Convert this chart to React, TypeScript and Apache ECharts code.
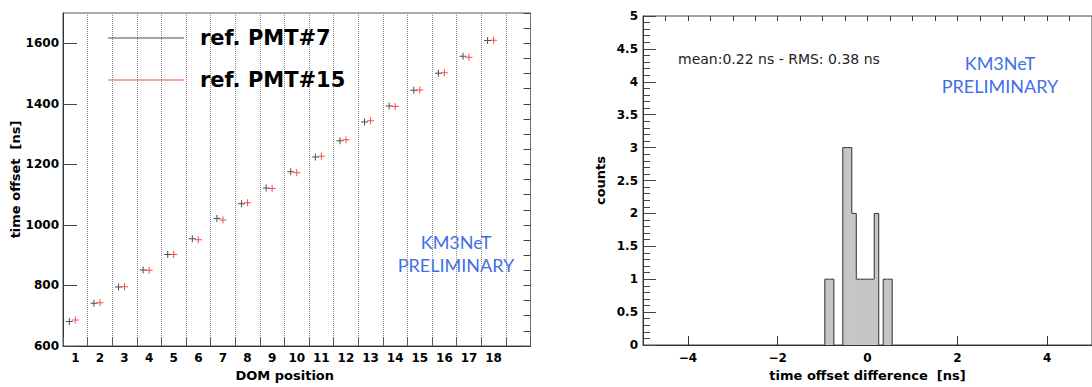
import React, { useEffect, useRef } from 'react';
import * as echarts from 'echarts';

// ---------- data ----------
const domPositions = ['1', '2', '3', '4', '5', '6', '7', '8', '9', '10', '11', '12', '13', '14', '15', '16', '17', '18', ''];
const refPmt7 = [681, 741, 795, 851, 902, 954, 1021, 1070, 1122, 1176, 1224, 1278, 1340, 1393, 1445, 1501, 1557, 1609];
const refPmt15 = [686, 743, 796, 850, 902, 951, 1016, 1073, 1120, 1172, 1227, 1281, 1344, 1391, 1446, 1503, 1554, 1610];
const leftYLabelTicks = [600, 800, 1000, 1200, 1400, 1600];

const histBinCenters = [-0.9, -0.8, -0.5, -0.4, -0.3, -0.2, -0.1, 0.0, 0.1, 0.2, 0.4, 0.5];
const histCounts = [1, 1, 3, 3, 2, 1, 1, 1, 1, 2, 1, 1];
const histBinWidth = 0.1;
const rightXLabelTicks = [-4, -2, 0, 2, 4];

const statsText = 'mean:0.22 ns - RMS: 0.38 ns';
const watermark = 'KM3NeT\nPRELIMINARY';

const FONT = 'DejaVu Sans';
const plusSymbol = 'path://M0,3H7V4H0Z M3,0H4V7H3Z';

const countAt = (c: number) => {
  const i = histBinCenters.findIndex((v) => Math.abs(v - c) < 1e-6);
  return i >= 0 ? histCounts[i] : 0;
};

const minusFmt = (v: number) => (v < 0 ? '\u2212' + Math.abs(v) : String(v));

export default function App() {
  const ref = useRef<HTMLDivElement>(null);

  useEffect(() => {
    if (!ref.current) return;
    const chart = echarts.init(ref.current, undefined, { renderer: 'svg' });

    const labelStyle = { fontFamily: FONT, fontWeight: 'bold', fontSize: 12, color: '#000' };
    const nameStyle = { fontFamily: FONT, fontWeight: 'bold', fontSize: 13, color: '#000' };

    const option: any = {
      animation: false,
      backgroundColor: '#fff',
      grid: [
        { left: 63, top: 13, width: 467.5, height: 336, show: true, borderColor: '#555', borderWidth: 1, backgroundColor: 'transparent' },
        { left: 643, top: 16, width: 455, height: 329, show: true, borderColor: '#444', borderWidth: 1, backgroundColor: 'transparent' },
      ],
      legend: {
        orient: 'vertical',
        left: 108,
        top: 25,
        padding: 0,
        itemWidth: 76,
        itemHeight: 1,
        itemGap: 16,
        icon: 'rect',
        selectedMode: false,
        textStyle: { fontFamily: FONT, fontWeight: 'bold', fontSize: 21, color: '#000', lineHeight: 26, padding: [0, 0, 0, 11] },
        data: ['ref. PMT#7', 'ref. PMT#15'],
      },
      xAxis: [
        {
          type: 'category',
          gridIndex: 0,
          data: domPositions,
          boundaryGap: true,
          axisLine: { show: true, lineStyle: { color: '#333' } },
          axisTick: { show: true, inside: true, length: 9, lineStyle: { color: '#555' } },
          axisLabel: { ...labelStyle, margin: 6, interval: 0 },
          splitLine: { show: true, interval: 0, lineStyle: { type: 'dotted', color: '#8a8a8a', width: 1 } },
          name: 'DOM position',
          nameLocation: 'middle',
          nameGap: 23,
          nameTextStyle: { ...nameStyle, padding: [0, 24, 0, 0] },
        },
        {
          type: 'value',
          gridIndex: 1,
          min: -5,
          max: 5,
          interval: 1,
          axisLine: { show: true, onZero: false, lineStyle: { color: '#333' } },
          axisTick: { show: true, inside: true, length: 9, customValues: rightXLabelTicks, lineStyle: { color: '#333' } },
          axisLabel: { ...labelStyle, margin: 7, customValues: rightXLabelTicks, formatter: (v: number) => minusFmt(v) },
          splitLine: { show: false },
          name: 'time offset difference  [ns]',
          nameLocation: 'middle',
          nameGap: 23,
          nameTextStyle: nameStyle,
        },
        {
          type: 'value',
          gridIndex: 1,
          min: -5,
          max: 5,
          interval: 0.5,
          axisLine: { show: false, onZero: false },
          axisTick: { show: true, inside: true, length: 5, lineStyle: { color: '#333' } },
          axisLabel: { show: false },
          splitLine: { show: false },
        },
      ],
      yAxis: [
        {
          type: 'value',
          gridIndex: 0,
          min: 600,
          max: 1700,
          interval: 200,
          axisLine: { show: true, onZero: false, lineStyle: { color: '#333' } },
          axisTick: { show: true, inside: true, length: 14, customValues: leftYLabelTicks, lineStyle: { color: '#444' } },
          axisLabel: { ...labelStyle, margin: 4, customValues: leftYLabelTicks, formatter: (v: number) => String(v) },
          splitLine: { show: false },
          name: 'time offset  [ns]',
          nameLocation: 'middle',
          nameGap: 38,
          nameTextStyle: nameStyle,
        },
        {
          type: 'value',
          gridIndex: 0,
          min: 600,
          max: 1700,
          interval: 50,
          axisLine: { show: false, onZero: false },
          axisTick: { show: true, inside: true, length: 7, lineStyle: { color: '#444' } },
          axisLabel: { show: false },
          splitLine: { show: false },
        },
        {
          type: 'value',
          gridIndex: 1,
          min: 0,
          max: 5,
          interval: 0.5,
          axisLine: { show: true, onZero: false, lineStyle: { color: '#333' } },
          axisTick: { show: true, inside: true, length: 13, lineStyle: { color: '#444' } },
          minorTick: { show: true, splitNumber: 5, length: 7, lineStyle: { color: '#444' } },
          axisLabel: { ...labelStyle, margin: 5, formatter: (v: number) => String(v) },
          splitLine: { show: false },
          minorSplitLine: { show: false },
          name: 'counts',
          nameLocation: 'middle',
          nameGap: 36,
          nameTextStyle: nameStyle,
        },
      ],
      series: [
        {
          type: 'scatter',
          name: 'ref. PMT#7',
          xAxisIndex: 0,
          yAxisIndex: 0,
          data: refPmt7,
          symbol: plusSymbol,
          symbolSize: 7,
          symbolOffset: [-6, 0],
          itemStyle: { color: '#222' },
          z: 3,
        },
        {
          type: 'scatter',
          name: 'ref. PMT#15',
          xAxisIndex: 0,
          yAxisIndex: 0,
          data: refPmt15,
          symbol: plusSymbol,
          symbolSize: 7,
          itemStyle: { color: '#ff1a1a' },
          z: 3,
        },
        {
          type: 'custom',
          name: 'time offset difference',
          xAxisIndex: 1,
          yAxisIndex: 2,
          data: histBinCenters.map((c, i) => [c, histCounts[i]]),
          encode: { x: 0, y: 1 },
          renderItem: (_params: any, api: any) => {
            const c = api.value(0) as number;
            const n = api.value(1) as number;
            const x0 = c - histBinWidth / 2;
            const x1 = c + histBinWidth / 2;
            const pTL = api.coord([x0, n]);
            const pBR = api.coord([x1, 0]);
            const yOf = (v: number) => api.coord([c, v])[1];
            const L = countAt(Math.round((c - histBinWidth) * 10) / 10);
            const R = countAt(Math.round((c + histBinWidth) * 10) / 10);
            const stroke = { stroke: '#333', lineWidth: 1 };
            const children: any[] = [
              { type: 'rect', shape: { x: pTL[0] - 0.3, y: pTL[1], width: pBR[0] - pTL[0] + 0.6, height: pBR[1] - pTL[1] }, style: { fill: '#c6c6c6' } },
              { type: 'line', shape: { x1: pTL[0], y1: pTL[1], x2: pBR[0], y2: pTL[1] }, style: stroke },
            ];
            if (n > L) children.push({ type: 'line', shape: { x1: pTL[0], y1: pTL[1], x2: pTL[0], y2: yOf(L) }, style: stroke });
            if (n > R) children.push({ type: 'line', shape: { x1: pBR[0], y1: pTL[1], x2: pBR[0], y2: yOf(R) }, style: stroke });
            return { type: 'group', children };
          },
          z: 2,
        },
      ],
      graphic: [
        {
          type: 'text',
          x: 678,
          y: 59,
          style: { text: statsText, fontFamily: FONT, fontSize: 14, fill: '#222', verticalAlign: 'middle' },
        },
        {
          type: 'text',
          x: 456,
          y: 253,
          style: { text: watermark, fontFamily: 'Lato', fontSize: 18, lineHeight: 23, fill: '#3f6fe8', align: 'center', verticalAlign: 'middle' },
        },
        {
          type: 'text',
          x: 1000,
          y: 74,
          style: { text: watermark, fontFamily: 'Lato', fontSize: 18, lineHeight: 23, fill: '#3f6fe8', align: 'center', verticalAlign: 'middle' },
        },
      ],
    };

    chart.setOption(option);
    return () => chart.dispose();
  }, []);

  return <div ref={ref} style={{ position: 'absolute', left: 0, top: 0, width: 1092, height: 387 }} />;
}
